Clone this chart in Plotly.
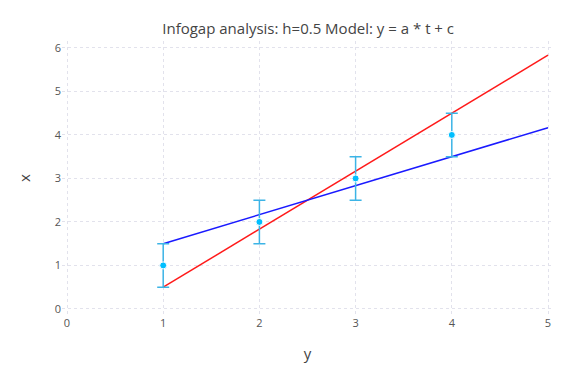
import plotly.graph_objects as go

t_obs = [1, 2, 3, 4]
x_obs = [1, 2, 3, 4]
err = [0.5, 0.5, 0.5, 0.5]

t_line = [1, 5]
red_line = [0.5, 5.8333]
blue_line = [1.5, 4.1667]

font_family = "Open Sans, DejaVu Sans, sans-serif"

fig = go.Figure()
fig.add_trace(go.Scatter(x=t_line, y=red_line, mode="lines",
                         line=dict(color="#ff1a1a", width=1.5), showlegend=False))
fig.add_trace(go.Scatter(x=t_line, y=blue_line, mode="lines",
                         line=dict(color="#1a1aff", width=1.5), showlegend=False))
fig.add_trace(go.Scatter(x=t_obs, y=x_obs, mode="markers",
                         marker=dict(color="#00bfff", size=7, line=dict(color="white", width=1)),
                         error_y=dict(type="data", array=err, visible=True,
                                      color="#3cb4e6", thickness=1.5, width=6),
                         showlegend=False))

grid = dict(showgrid=True, gridcolor="#e2e2ec", griddash="dot", gridwidth=1,
            zeroline=False, showline=False, ticks="",
            tickfont=dict(size=11, color="#555555", family=font_family))

fig.update_layout(
    width=576, height=384,
    margin=dict(l=62, r=23, t=41, b=69),
    paper_bgcolor="white", plot_bgcolor="white",
    title=dict(text="Infogap analysis: h=0.5 Model: y = a * t + c",
               x=0.535, xanchor="center", y=0.925, yanchor="middle",
               font=dict(size=15, color="#444444", family=font_family)),
    xaxis=dict(range=[-0.052, 5.052], dtick=1, **grid,
               title=dict(text="y", font=dict(size=15, color="#444444", family=font_family), standoff=19)),
    yaxis=dict(range=[-0.14, 6.16], dtick=1, **grid,
               title=dict(text="x", font=dict(size=15, color="#444444", family=font_family), standoff=20)),
)

fig.write_html("out.html", config={"displayModeBar": False},
               post_script="document.body.style.margin='0px';document.body.style.overflow='hidden';")
